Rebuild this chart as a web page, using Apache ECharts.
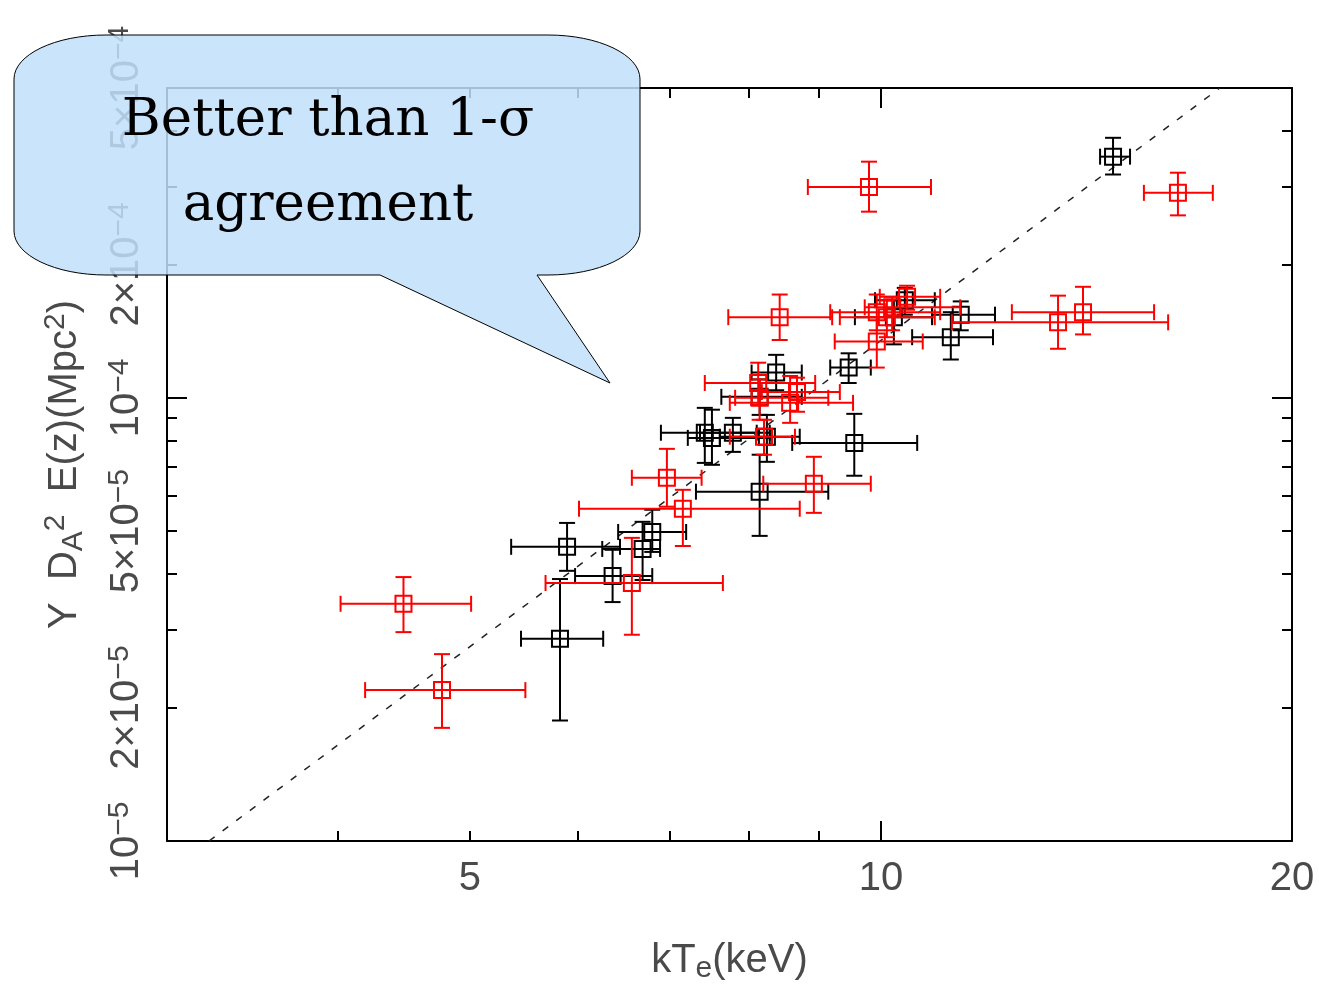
<!DOCTYPE html>
<html>
<head>
<meta charset="utf-8">
<title>Y D_A^2 E(z) vs kTe</title>
<script src="https://cdn.jsdelivr.net/npm/echarts@6.0.0/dist/echarts.min.js"></script>
<style>
  html, body { margin: 0; padding: 0; background: #fff; }
  #chart { width: 1319px; height: 986px; }
</style>
</head>
<body>
<div id="chart"></div>
<script>
const log = Math.log10

// axis ranges (log-log plot)
const kTMin = 3
const kTMax = 20
const yMin = 1e-5
const yMax = 5e-4

// ticks / labels
const kTMinorTicks = [4, 5, 6, 7, 8, 9]
const kTMajorTicks = [10]
const kTLabelValues = [5, 10, 20]
const yMinorTicks = [2e-5, 3e-5, 4e-5, 5e-5, 6e-5, 7e-5, 8e-5, 9e-5, 2e-4, 3e-4, 4e-4]
const yMajorTicks = [1e-4]
const yLabelValues = [1e-5, 2e-5, 5e-5, 1e-4, 2e-4, 5e-4]
const yLabelTexts = ['{m|10}{s|−5}', '{m|2×10}{s|−5}', '{m|5×10}{s|−5}', '{m|10}{s|−4}', '{m|2×10}{s|−4}', '{m|5×10}{s|−4}']

// black sample
const blackKT   = [5.82, 5.89, 6.36, 6.69, 6.80, 7.43, 7.52, 7.79, 8.25, 8.15, 9.56, 8.15, 8.38, 9.47, 10.22, 11.25, 11.44, 14.79, 10.41]
const blackKTLo = [5.45, 5.36, 5.97, 6.25, 6.42, 6.90, 7.22, 7.37, 7.62, 7.32, 8.61, 7.64, 8.04, 9.18, 9.57, 10.54, 10.90, 14.47, 9.90]
const blackKTHi = [6.26, 6.44, 6.80, 6.89, 7.20, 8.11, 8.29, 8.29, 8.72, 9.15, 10.63, 8.75, 8.75, 9.83, 10.90, 12.08, 12.12, 15.22, 10.95]
const blackY    = [2.86e-5, 4.61e-5, 3.96e-5, 4.56e-5, 4.98e-5, 8.34e-5, 8.12e-5, 8.34e-5, 8.17e-5, 6.14e-5, 7.91e-5, 1.005e-4, 1.14e-4, 1.17e-4, 1.52e-4, 1.37e-4, 1.54e-4, 3.50e-4, 1.66e-4]
const blackYLo  = [1.87e-5, 4.07e-5, 3.46e-5, 3.88e-5, 4.49e-5, 7.13e-5, 7.06e-5, 7.55e-5, 7.17e-5, 4.88e-5, 6.67e-5, 9.15e-5, 1.04e-4, 1.08e-4, 1.32e-4, 1.22e-4, 1.42e-4, 3.19e-4, 1.54e-4]
const blackYHi  = [3.90e-5, 5.22e-5, 4.54e-5, 5.25e-5, 5.59e-5, 9.49e-5, 9.40e-5, 9.01e-5, 9.15e-5, 7.44e-5, 9.20e-5, 1.10e-4, 1.25e-4, 1.26e-4, 1.66e-4, 1.56e-4, 1.65e-4, 3.86e-4, 1.77e-4]

// red sample
const redKT   = [4.47, 4.77, 6.57, 7.16, 6.97, 8.93, 8.21, 8.13, 8.15, 8.58, 8.68, 8.43, 9.93, 9.93, 10.10, 10.45, 10.19, 9.80, 13.48, 14.06, 16.50]
const redKTLo = [4.02, 4.19, 5.68, 6.01, 6.57, 8.20, 7.75, 7.43, 7.82, 7.75, 8.18, 7.73, 9.25, 9.18, 9.33, 9.98, 9.73, 8.84, 11.27, 12.47, 15.58]
const redKTHi = [5.01, 5.49, 7.66, 8.72, 7.39, 9.83, 8.65, 8.95, 9.15, 9.54, 9.33, 9.21, 10.73, 11.05, 10.95, 11.05, 11.43, 10.88, 16.23, 15.85, 17.50]
const redY    = [3.43e-5, 2.19e-5, 3.82e-5, 5.62e-5, 6.60e-5, 6.40e-5, 8.17e-5, 1.08e-4, 1.00e-4, 9.74e-5, 1.03e-4, 1.52e-4, 1.34e-4, 1.56e-4, 1.52e-4, 1.69e-4, 1.60e-4, 2.99e-4, 1.48e-4, 1.56e-4, 2.90e-4]
const redYLo  = [2.96e-5, 1.80e-5, 2.92e-5, 4.63e-5, 5.68e-5, 5.50e-5, 7.44e-5, 9.64e-5, 8.92e-5, 8.78e-5, 9.30e-5, 1.35e-4, 1.17e-4, 1.42e-4, 1.37e-4, 1.58e-4, 1.42e-4, 2.63e-4, 1.29e-4, 1.39e-4, 2.58e-4]
const redYHi  = [3.94e-5, 2.64e-5, 4.83e-5, 6.20e-5, 7.67e-5, 7.36e-5, 8.92e-5, 1.20e-4, 1.10e-4, 1.12e-4, 1.11e-4, 1.71e-4, 1.52e-4, 1.71e-4, 1.66e-4, 1.79e-4, 1.69e-4, 3.41e-4, 1.70e-4, 1.78e-4, 3.22e-4]

// dashed relation
const fitKT = [3.22, 17.71]
const fitY = [1e-5, 5e-4]

const FONT = "'Liberation Sans', Arial, sans-serif"
const TEXT_COLOR = '#4a4a4a'

function rows (kt, ktLo, ktHi, y, yLo, yHi) {
  return kt.map((v, i) => [log(v), log(y[i]), log(ktLo[i]), log(ktHi[i]), log(yLo[i]), log(yHi[i])])
}

function errorBarItem (color) {
  return function (params, api) {
    const c = api.coord([api.value(0), api.value(1)])
    const xLo = api.coord([api.value(2), api.value(1)])[0]
    const xHi = api.coord([api.value(3), api.value(1)])[0]
    const yLo = api.coord([api.value(0), api.value(4)])[1]
    const yHi = api.coord([api.value(0), api.value(5)])[1]
    const cap = 8
    const box = 8
    const st = () => ({ stroke: color, lineWidth: 2, fill: 'none' })
    const seg = (x1, y1, x2, y2) => ({ type: 'line', shape: { x1, y1, x2, y2 }, style: st() })
    return {
      type: 'group',
      children: [
        seg(xLo, c[1], xHi, c[1]),
        seg(xLo, c[1] - cap, xLo, c[1] + cap),
        seg(xHi, c[1] - cap, xHi, c[1] + cap),
        seg(c[0], yLo, c[0], yHi),
        seg(c[0] - cap, yLo, c[0] + cap, yLo),
        seg(c[0] - cap, yHi, c[0] + cap, yHi),
        { type: 'rect', shape: { x: c[0] - box, y: c[1] - box, width: box * 2, height: box * 2 }, style: st() }
      ]
    }
  }
}

function frameAxis (dim, position, ticks, tickLen, showLine) {
  const isX = dim === 'x'
  return {
    type: 'value',
    position,
    min: isX ? log(kTMin) : log(yMin),
    max: isX ? log(kTMax) : log(yMax),
    axisLine: { show: showLine, onZero: false, lineStyle: { color: '#000', width: 2 } },
    axisTick: { show: true, inside: true, length: tickLen, customValues: ticks.map(log), lineStyle: { color: '#000', width: 2 } },
    axisLabel: { show: false },
    splitLine: { show: false }
  }
}

// bottom x axis with labels
const xMain = frameAxis('x', 'bottom', kTMinorTicks, 10, true)
xMain.axisLabel = {
  show: true,
  customValues: kTLabelValues.map(log),
  formatter: v => String(Math.round(Math.pow(10, v))),
  margin: 18,
  fontFamily: FONT,
  fontSize: 40,
  color: TEXT_COLOR
}
xMain.name = 'kT{sub|e}(keV)'
xMain.nameLocation = 'middle'
xMain.nameGap = 97
xMain.nameTextStyle = {
  fontFamily: FONT,
  fontSize: 40,
  lineHeight: 46,
  color: TEXT_COLOR,
  rich: { sub: { fontFamily: FONT, fontSize: 30, lineHeight: 14, verticalAlign: 'bottom', color: TEXT_COLOR } }
}

// left y axis with labels
const yMainAxis = frameAxis('y', 'left', yMinorTicks, 10, true)
yMainAxis.axisLabel = {
  show: true,
  customValues: yLabelValues.map(log),
  formatter: v => {
    const i = yLabelValues.findIndex(t => Math.abs(log(t) - v) < 1e-6)
    return i < 0 ? '' : yLabelTexts[i]
  },
  rotate: 90,
  margin: 18,
  rich: {
    m: { fontFamily: FONT, fontSize: 40, lineHeight: 44, color: TEXT_COLOR },
    s: { fontFamily: FONT, fontSize: 30, lineHeight: 20, verticalAlign: 'top', color: TEXT_COLOR }
  }
}
yMainAxis.name = 'Y  D{sub|A}{sup|2}  E(z)(Mpc{sup|2})'
yMainAxis.nameLocation = 'middle'
yMainAxis.nameRotate = 90
yMainAxis.nameGap = 78
yMainAxis.nameTextStyle = {
  fontFamily: FONT,
  fontSize: 40,
  lineHeight: 48,
  color: TEXT_COLOR,
  rich: {
    sub: { fontFamily: FONT, fontSize: 30, lineHeight: 16, verticalAlign: 'bottom', color: TEXT_COLOR },
    sup: { fontFamily: FONT, fontSize: 30, lineHeight: 16, verticalAlign: 'top', color: TEXT_COLOR }
  }
}

// speech bubble outline (bbox 14..640 x 35..383)
const bubblePath = 'M106,35 L548,35 C598.8,35 640,54.7 640,79 L640,231 C640,255.3 598.8,275 548,275 ' +
  'L537,275 L610,383 L380,275 L106,275 C55.2,275 14,255.3 14,231 L14,79 C14,54.7 55.2,35 106,35 Z'

const chart = echarts.init(document.getElementById('chart'))
chart.setOption({
  animation: false,
  backgroundColor: '#fff',
  grid: { left: 167, right: 27, top: 88, bottom: 145, outerBoundsMode: 'none' },
  xAxis: [
    xMain,
    frameAxis('x', 'bottom', kTMajorTicks, 20, false),
    frameAxis('x', 'top', kTMinorTicks, 10, true),
    frameAxis('x', 'top', kTMajorTicks, 20, false)
  ],
  yAxis: [
    yMainAxis,
    frameAxis('y', 'left', yMajorTicks, 20, false),
    frameAxis('y', 'right', yMinorTicks, 10, true),
    frameAxis('y', 'right', yMajorTicks, 20, false)
  ],
  series: [
    {
      type: 'line',
      data: fitKT.map((v, i) => [log(v), log(fitY[i])]),
      showSymbol: false,
      symbol: 'none',
      silent: true,
      z: 1,
      lineStyle: { color: '#222', width: 1.5, type: [7, 10] }
    },
    {
      type: 'custom',
      name: 'black',
      renderItem: errorBarItem('#000'),
      encode: { x: 0, y: 1 },
      data: rows(blackKT, blackKTLo, blackKTHi, blackY, blackYLo, blackYHi),
      z: 3
    },
    {
      type: 'custom',
      name: 'red',
      renderItem: errorBarItem('#ff0000'),
      encode: { x: 0, y: 1 },
      data: rows(redKT, redKTLo, redKTHi, redY, redYLo, redYHi),
      z: 4
    },
    {
      type: 'custom',
      name: 'bubble',
      coordinateSystem: 'none',
      silent: true,
      z: 100,
      data: [0],
      renderItem: () => ({
        type: 'path',
        shape: { pathData: bubblePath, x: 14, y: 35, width: 626, height: 348 },
        style: { fill: 'rgba(192,223,250,0.85)', stroke: '#000', lineWidth: 1 }
      })
    }
  ],
  graphic: [
    {
      type: 'text',
      z: 101,
      x: 328,
      y: 121,
      style: { text: 'Better than 1-σ', fontFamily: "'DejaVu Serif', serif", fontSize: 53, fill: '#000', align: 'center', verticalAlign: 'middle' }
    },
    {
      type: 'text',
      z: 101,
      x: 328,
      y: 206,
      style: { text: 'agreement', fontFamily: "'DejaVu Serif', serif", fontSize: 53, fill: '#000', align: 'center', verticalAlign: 'middle' }
    }
  ]
})
</script>
</body>
</html>
